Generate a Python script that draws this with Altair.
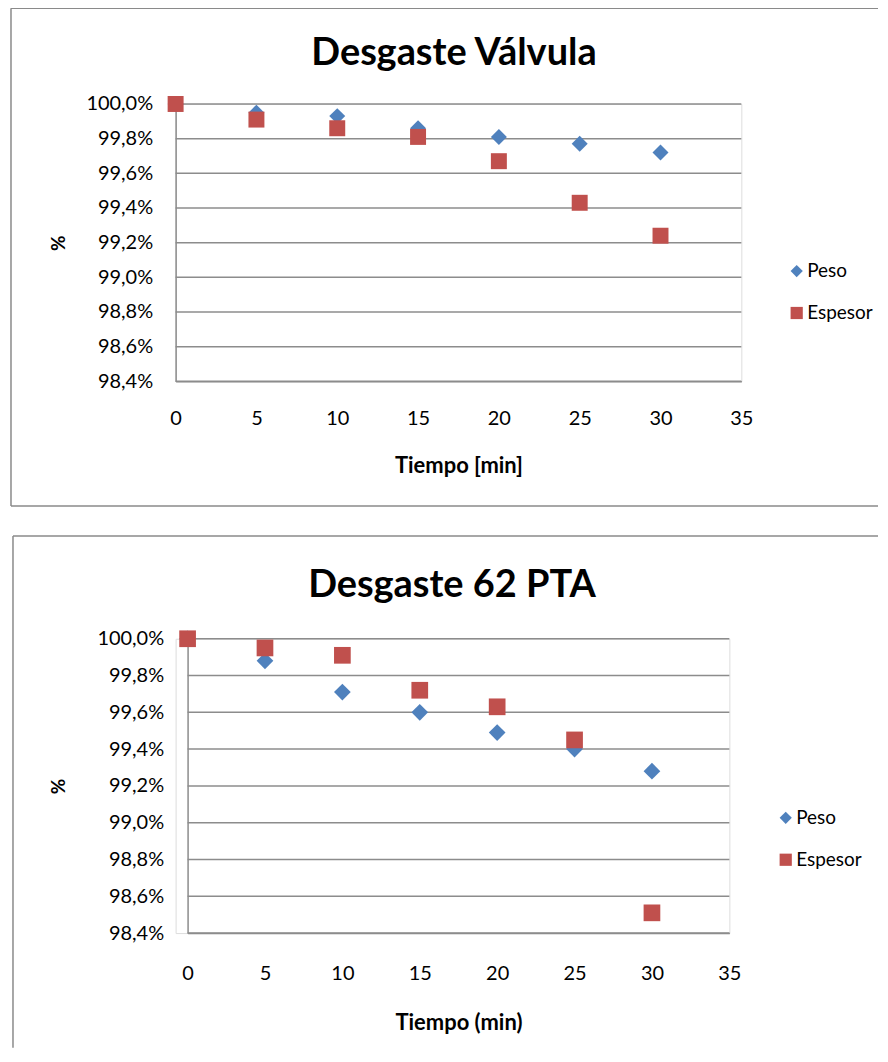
import altair as alt
import pandas as pd

# ---- data ----
tiempo = [0, 5, 10, 15, 20, 25, 30]
series = ["Peso", "Espesor"]

valvula_peso = [100.0, 99.95, 99.93, 99.86, 99.81, 99.77, 99.72]
valvula_espesor = [100.0, 99.91, 99.86, 99.81, 99.67, 99.43, 99.24]

pta_peso = [100.0, 99.88, 99.71, 99.60, 99.49, 99.40, 99.28]
pta_espesor = [100.0, 99.95, 99.91, 99.72, 99.63, 99.45, 98.51]

y_ticks = [98.4, 98.6, 98.8, 99.0, 99.2, 99.4, 99.6, 99.8, 100.0]
x_ticks = [0, 5, 10, 15, 20, 25, 30, 35]

BLUE = "#4F81BD"
RED = "#C0504D"
GRID = "#8c8c8c"
BORDER = "#8a8a8a"
FONT = "Lato"


def frame(peso, espesor):
    rows = []
    for s, vals in (("Peso", peso), ("Espesor", espesor)):
        for t, v in zip(tiempo, vals):
            rows.append({"t": t, "v": v, "serie": s})
    return pd.DataFrame(rows)


def panel(title, xtitle, peso, espesor, g):
    w, h, off = g["w"], g["h"], g["xoff"]
    df = frame(peso, espesor)
    one = pd.DataFrame({"txt": [title]})
    yscale = alt.Scale(domain=[98.4, 100.0], zero=False, nice=False)

    def yaxis():
        return alt.Axis(values=y_ticks, ticks=False, grid=False,
                        offset=-off,
                        domainColor=GRID, domainWidth=1.5,
                        labelExpr="replace(format(datum.value, '.1f'), '.', ',') + '%'",
                        labelFont=FONT, labelFontSize=20, labelColor="#000",
                        labelPadding=g["ylabpad"],
                        title="%", titleFont=FONT, titleFontSize=19,
                        titleFontWeight="bold", titleColor="#000",
                        titleBaseline="middle", titleX=g["ytitlex"],
                        titleY=h / 2)

    legend = alt.Legend(
        title=None, orient="none", legendX=g["legx"], legendY=g["legy"],
        labelFont=FONT, labelFontSize=19, labelColor="#000",
        symbolSize=150, symbolStrokeWidth=0, rowPadding=22,
        labelOffset=1, padding=0,
    )

    grid = alt.Chart(pd.DataFrame({"v": y_ticks})).mark_rule(
        color=GRID, strokeWidth=1.5
    ).encode(
        y=alt.Y("v:Q", scale=yscale, axis=yaxis()),
        x=alt.value(off), x2=alt.value(w),
    )

    pts = alt.Chart(df).mark_point(
        filled=True, opacity=1, size=g["size"], strokeWidth=0
    ).encode(
        x=alt.X("t:Q", scale=alt.Scale(domain=[0, 35], nice=False, range=[off, w]),
                axis=alt.Axis(values=x_ticks, ticks=False, grid=False, labelFlush=False,
                              domainColor=GRID, domainWidth=1.5,
                              labelFont=FONT, labelFontSize=20, labelColor="#000",
                              labelPadding=g["xlabpad"],
                              title=xtitle, titleFont=FONT, titleFontSize=22,
                              titleFontWeight="bold", titleColor="#000",
                              titleBaseline="middle", titleY=g["xtitley"],
                              titleX=off + (w - off) / 2)),
        y=alt.Y("v:Q", scale=yscale, axis=yaxis()),
        color=alt.Color("serie:N", scale=alt.Scale(domain=series, range=[BLUE, RED]),
                        sort=series, legend=legend),
        shape=alt.Shape("serie:N", scale=alt.Scale(domain=series, range=["diamond", "square"]),
                        sort=series, legend=legend),
    )

    ttl = alt.Chart(one).mark_text(
        font=FONT, fontSize=38, fontWeight="bold", color="#000",
        align="center", baseline="alphabetic"
    ).encode(text="txt:N", x=alt.value(g["titlex"]), y=alt.value(g["titley"]))

    L, R, T, B = g["left"], g["right"], g["top"], g["bottom"]
    layers = [
        alt.Chart(one).mark_rule(color=BORDER, strokeWidth=1.5).encode(
            x=alt.value(L), x2=alt.value(R), y=alt.value(T)),
        alt.Chart(one).mark_rule(color=BORDER, strokeWidth=1.5).encode(
            x=alt.value(L), y=alt.value(T), y2=alt.value(B)),
    ]
    if g.get("bottom_rule", True):
        layers.append(alt.Chart(one).mark_rule(color=BORDER, strokeWidth=1.5).encode(
            x=alt.value(L), x2=alt.value(R), y=alt.value(B)))
    layers += [grid, pts, ttl]
    return alt.layer(*layers).properties(width=w, height=h)


g1 = dict(w=567, h=278, xoff=0, size=256, xlabpad=27, xtitley=84, ylabpad=23, ytitlex=-117,
          legx=613, legy=158, titlex=279, titley=-39,
          left=-165, right=704, top=-96, bottom=403)
g2 = dict(w=555, h=295, xoff=12, size=280, xlabpad=31, xtitley=90, ylabpad=24, ytitlex=-129,
          legx=602, legy=170, titlex=277, titley=-42,
          left=-163, right=704, top=-103, bottom=410, bottom_rule=False)

c1 = panel("Desgaste Válvula", "Tiempo [min]", valvula_peso, valvula_espesor, g1)
c2 = panel("Desgaste 62 PTA", "Tiempo (min)", pta_peso, pta_espesor, g2)

chart = alt.vconcat(c1, c2, spacing=26).resolve_scale(
    color="independent", shape="independent"
).properties(
    padding={"left": 1, "top": -3, "right": 0, "bottom": 0}
).configure_view(stroke=None).configure(background="#ffffff")

chart.save("out.html", embed_options={"renderer": "svg", "actions": False})
